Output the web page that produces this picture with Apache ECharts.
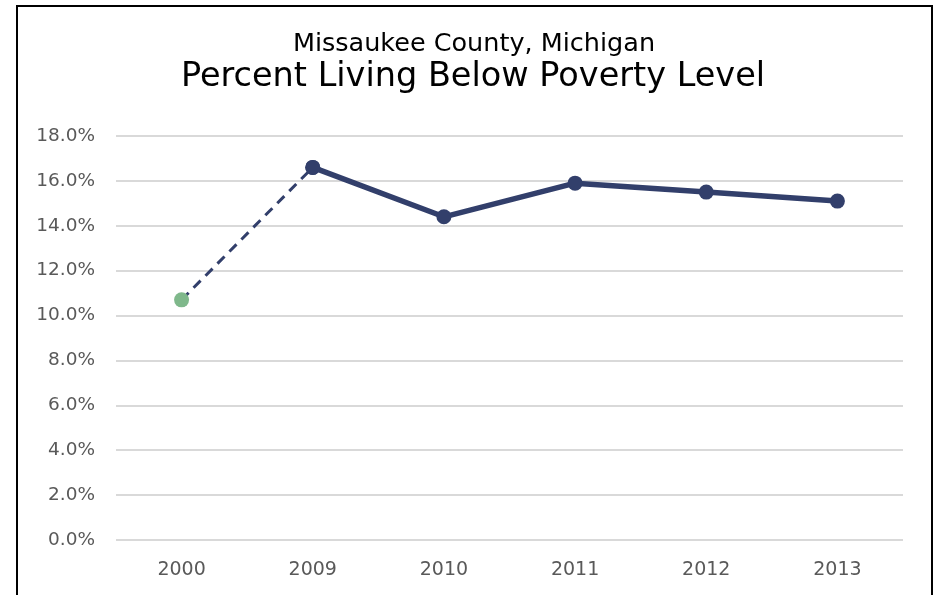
<!DOCTYPE html>
<html>
<head>
<meta charset="utf-8">
<script src="https://cdn.jsdelivr.net/npm/echarts@6/dist/echarts.min.js"></script>
<style>
  html, body { margin: 0; padding: 0; background: #fff; }
  #chart { width: 935px; height: 595px; }
</style>
</head>
<body>
<div id="chart"></div>
<script>
// data
const years = ['2000', '2009', '2010', '2011', '2012', '2013'];
const poverty = [10.7, 16.6, 14.4, 15.9, 15.5, 15.1];
const yTicks = [0, 2, 4, 6, 8, 10, 12, 14, 16, 18];

// 2000 -> 2009 drawn dashed, the yearly run solid
const dashedPart = poverty.map((v, i) => (i <= 1 ? v : '-'));
const solidPart = poverty.map((v, i) => (i >= 1 ? v : '-'));

const navy = '#323f6b';
const green = '#7fb88b';
const font = 'DejaVu Sans';

let myChart = echarts.init(document.getElementById('chart'));
myChart.setOption({
    animation: false,
    textStyle: { fontFamily: font },
    graphic: [{
        type: 'rect',
        shape: { x: 17, y: 6, width: 915, height: 620 },
        style: { fill: 'none', stroke: '#000', lineWidth: 2 }
    }],
    title: [{
        text: 'Missaukee County, Michigan',
        left: 469,
        top: 26,
        textAlign: 'center',
        textStyle: { fontFamily: font, fontSize: 25.5, fontWeight: 'normal', color: '#000' }
    }, {
        text: 'Percent Living Below Poverty Level',
        left: 468,
        top: 55,
        textAlign: 'center',
        textStyle: { fontFamily: font, fontSize: 33.5, fontWeight: 'normal', color: '#000' }
    }],
    grid: { left: 116, right: 32, top: 136, bottom: 55 },
    xAxis: {
        type: 'category',
        data: years,
        boundaryGap: true,
        axisLine: { show: false },
        axisTick: { show: false },
        axisLabel: { color: '#595959', fontSize: 19, margin: 21, fontFamily: font }
    },
    yAxis: {
        type: 'value',
        min: yTicks[0],
        max: yTicks[yTicks.length - 1],
        interval: 2,
        axisLine: { show: false },
        axisTick: { show: false },
        splitLine: { lineStyle: { color: '#d9d9d9', width: 2 } },
        axisLabel: {
            color: '#595959', fontSize: 18.5, margin: 21, fontFamily: font,
            formatter: v => v.toFixed(1) + '%'
        }
    },
    series: [{
        type: 'line',
        name: 'dashed',
        data: dashedPart,
        symbol: 'circle',
        symbolSize: 15,
        lineStyle: { color: navy, width: 3, type: [10, 7] },
        itemStyle: {
            color: p => (p.dataIndex === 0 ? green : navy)
        },
        z: 2
    }, {
        type: 'line',
        name: 'solid',
        data: solidPart,
        symbol: 'circle',
        symbolSize: 15,
        lineStyle: { color: navy, width: 5.5 },
        itemStyle: { color: navy },
        z: 3
    }]
});
</script>
</body>
</html>
